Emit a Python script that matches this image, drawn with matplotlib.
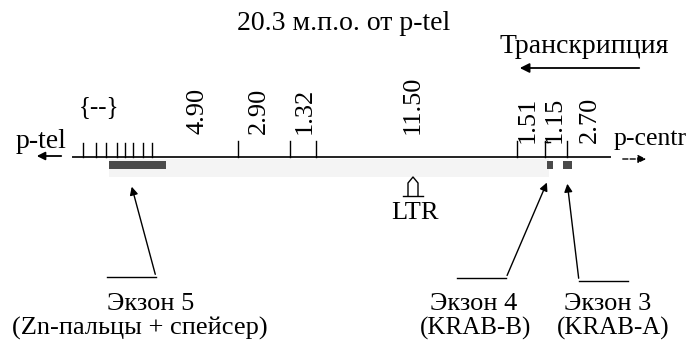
import matplotlib.pyplot as plt
from matplotlib.patches import Rectangle

plt.rcParams['font.family'] = ['Liberation Serif', 'DejaVu Serif']

title = "20.3 м.п.о. от p-tel"
direction_label = "Транскрипция"

# restriction sites along the map (diagram units) and distance labels between them
zn_sites = [83, 96, 106, 117, 125, 133, 143, 152]
sites = [238, 290, 316, 517, 545, 567]
dist_labels = ["4.90", "2.90", "1.32", "11.50", "1.51", "1.15", "2.70"]
dist_label_x = [197, 259, 305, 413, 528, 555, 590]

# exons: (start, end)
exons = [(109, 166), (547, 553), (563, 572)]
exon_names = ["Экзон 5", "Экзон 4", "Экзон 3"]
exon_domains = ["(Zn-пальцы + спейсер)", "(KRAB-B)", "(KRAB-A)"]
exon_name_x = [151, 474, 608]
exon_domain_x = [140, 476, 613]
ltr_x = 413

fig = plt.figure(figsize=(6.9, 3.41), dpi=100)
ax = fig.add_axes([0, 0, 1, 1])
ax.set_xlim(0, 690)
ax.set_ylim(341, 0)
ax.axis('off')

line_y = 157
fs = 19

ax.text(344, 30, title, ha='center', va='baseline', fontsize=20)
ax.text(584, 53, direction_label, ha='center', va='baseline', fontsize=20)
ax.annotate('', xy=(517, 68), xytext=(642, 68),
            arrowprops=dict(arrowstyle='-|>', color='black', lw=1.3, mutation_scale=14))

# faint shading under the map
ax.add_patch(Rectangle((109, 159), 440, 18, color='#f4f4f4', lw=0))

# main line
ax.plot([73, 610], [line_y, line_y], color='#222222', lw=1.4)

# end arrows
ax.text(41, 148, "p-tel", ha='center', va='baseline', fontsize=20)
ax.annotate('', xy=(34, 156), xytext=(64, 156),
            arrowprops=dict(arrowstyle='-|>', color='black', lw=1.3, mutation_scale=12))
ax.text(614, 145, "p-centr", ha='left', va='baseline', fontsize=18.5)
ax.annotate('', xy=(649, 159), xytext=(620, 159),
            arrowprops=dict(arrowstyle='-|>', color='black', lw=1.0, ls='--', mutation_scale=12))

# site ticks
for x in zn_sites:
    ax.plot([x, x], [143, line_y], color='black', lw=1.0)
ax.text(99, 113, "{--}", ha='center', va='baseline', fontsize=18)
for x in sites:
    ax.plot([x, x], [141, line_y], color='black', lw=1.0)
ax.plot([545, 550], [142, 142], color='black', lw=1.0)

for lab, x in zip(dist_labels, dist_label_x):
    ax.text(x, 134 if x < 500 else 143, lab, ha='center', va='bottom',
            rotation=90, fontsize=fs)

# exons
for (a, b) in exons:
    ax.add_patch(Rectangle((a, 161), b - a, 8, color='#4a4a4a', lw=0))

# LTR
ax.plot([408, 408, ltr_x, 418, 418], [196, 183, 177, 183, 196], color='black', lw=1.0)
ax.plot([403, 423], [196, 196], color='black', lw=1.0)
ax.text(ltr_x + 2, 219, "LTR", ha='center', va='baseline', fontsize=fs)

# callouts
arrow_kw = dict(arrowstyle='-|>', color='black', lw=1.0, mutation_scale=12)
ax.plot([107, 156], [277, 277], color='black', lw=1.0)
ax.annotate('', xy=(131, 184), xytext=(156, 277), arrowprops=arrow_kw)
ax.plot([457, 506], [278, 278], color='black', lw=1.0)
ax.annotate('', xy=(548, 180), xytext=(506, 278), arrowprops=arrow_kw)
ax.plot([579, 628], [281, 281], color='black', lw=1.0)
ax.annotate('', xy=(567, 181), xytext=(579, 281), arrowprops=arrow_kw)

for i in range(len(exon_names)):
    ax.text(exon_name_x[i], 310, exon_names[i], ha='center', va='baseline', fontsize=19)
    ax.text(exon_domain_x[i], 335, exon_domains[i], ha='center', va='baseline',
            fontsize=19 if i == 0 else 18)

fig.savefig('out.png', dpi=100)
